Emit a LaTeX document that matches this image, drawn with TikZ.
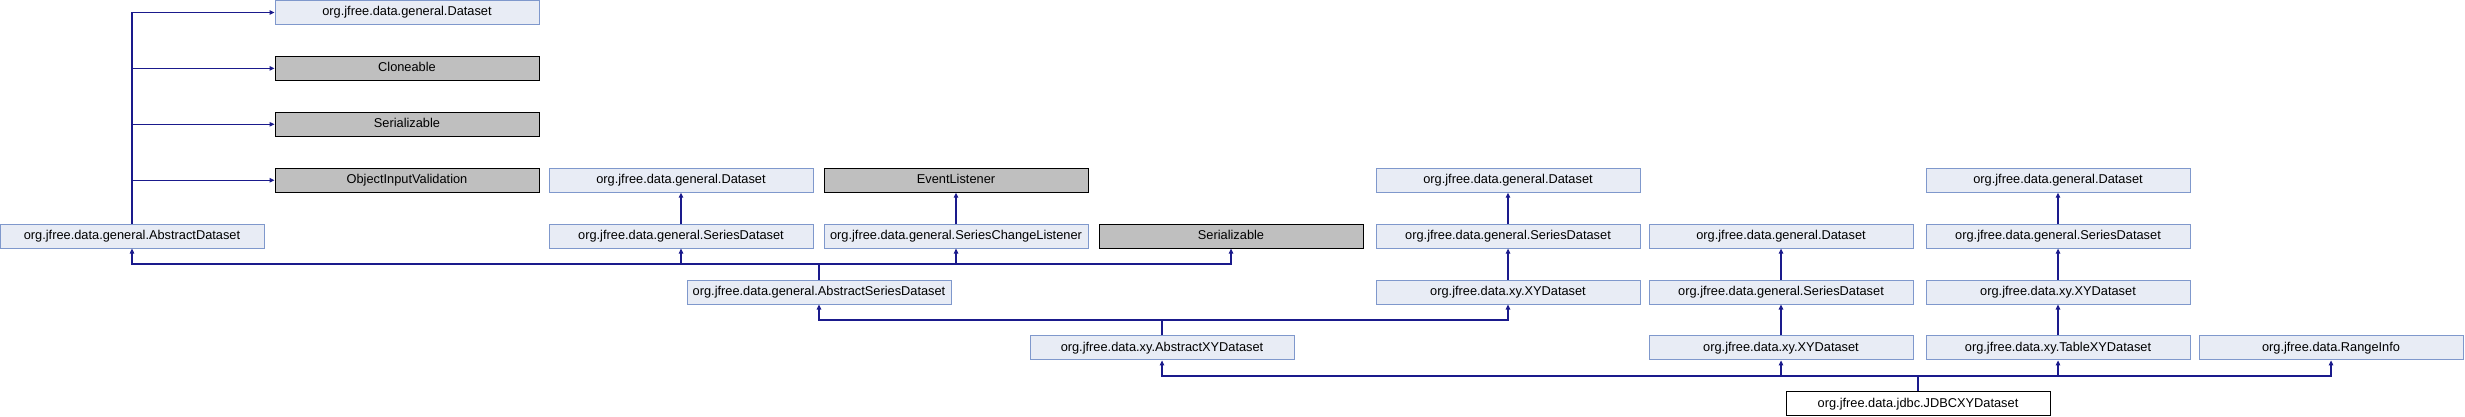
\documentclass[tikz,border=0pt]{standalone}
\usepackage{fontspec}
\setmainfont{Liberation Sans}
\usetikzlibrary{arrows.meta}
\definecolor{boxfill}{HTML}{E8ECF5}
\definecolor{boxline}{HTML}{7F98CC}
\definecolor{grayfill}{HTML}{BFBFBF}
\definecolor{edgecol}{HTML}{1A1A8C}
\tikzset{
  cls/.style={draw=boxline, fill=boxfill, line width=1pt, minimum width=264pt, minimum height=24pt, inner sep=0pt,
    font=\fontsize{12.8pt}{14pt}\selectfont, text height=9.2pt, text depth=2.6pt},
  ext/.style={cls, draw=black, fill=grayfill},
  focus/.style={cls, draw=black, fill=white},
  edge/.style={draw=edgecol, line width=1.1pt, -{Triangle[length=5pt,width=4.5pt]}},
  plain/.style={draw=edgecol, line width=1.1pt}
}
\begin{document}
\begin{tikzpicture}[x=1pt,y=-1pt]
\useasboundingbox (0,0) rectangle (2465,416);
% rows: 12.5, 68.4, 124.3, 180.2, 236.1, 292.0, 347.9, 403.8
% column B
\node[cls] (dsB) at (407,12.5) {org.jfree.data.general.Dataset};
\node[ext] (clo) at (407,68.4) {Cloneable};
\node[ext] (serB) at (407,124.3) {Serializable};
\node[ext] (oiv) at (407,180.2) {ObjectInputValidation};
\node[cls] (ad) at (132,236.1) {org.jfree.data.general.AbstractDataset};
% columns C, D, E
\node[cls] (dsC) at (681,180.2) {org.jfree.data.general.Dataset};
\node[cls] (sdC) at (681,236.1) {org.jfree.data.general.SeriesDataset};
\node[ext] (evl) at (956,180.2) {EventListener};
\node[cls] (scl) at (956,236.1) {org.jfree.data.general.SeriesChangeListener};
\node[ext] (serE) at (1231,236.1) {Serializable};
\node[cls] (asd) at (819,292.0) {org.jfree.data.general.AbstractSeriesDataset};
\node[cls] (axy) at (1162,347.9) {org.jfree.data.xy.AbstractXYDataset};
% column H
\node[cls] (dsH) at (1508,180.2) {org.jfree.data.general.Dataset};
\node[cls] (sdH) at (1508,236.1) {org.jfree.data.general.SeriesDataset};
\node[cls] (xyH) at (1508,292.0) {org.jfree.data.xy.XYDataset};
% column I
\node[cls] (dsI) at (1781,236.1) {org.jfree.data.general.Dataset};
\node[cls] (sdI) at (1781,292.0) {org.jfree.data.general.SeriesDataset};
\node[cls] (xyI) at (1781,347.9) {org.jfree.data.xy.XYDataset};
% column K
\node[cls] (dsK) at (2058,180.2) {org.jfree.data.general.Dataset};
\node[cls] (sdK) at (2058,236.1) {org.jfree.data.general.SeriesDataset};
\node[cls] (xyK) at (2058,292.0) {org.jfree.data.xy.XYDataset};
\node[cls] (txy) at (2058,347.9) {org.jfree.data.xy.TableXYDataset};
\node[cls] (ri) at (2331,347.9) {org.jfree.data.RangeInfo};
\node[focus] (jdbc) at (1918,403.8) {org.jfree.data.jdbc.JDBCXYDataset};
% AbstractDataset edges
\draw[edge] (ad.north) |- (dsB.west);
\draw[edge] (ad.north) |- (clo.west);
\draw[edge] (ad.north) |- (serB.west);
\draw[edge] (ad.north) |- (oiv.west);
% vertical chains
\draw[edge] (sdC) -- (dsC);
\draw[edge] (scl) -- (evl);
\draw[edge] (sdH) -- (dsH);
\draw[edge] (xyH) -- (sdH);
\draw[edge] (sdI) -- (dsI);
\draw[edge] (xyI) -- (sdI);
\draw[edge] (sdK) -- (dsK);
\draw[edge] (xyK) -- (sdK);
\draw[edge] (txy) -- (xyK);
% AbstractSeriesDataset bus
\coordinate (b1) at (819,264);
\draw[plain] (asd.north) -- (b1);
\draw[edge] (b1) -| (ad.south);
\draw[edge] (b1) -| (sdC.south);
\draw[edge] (b1) -| (scl.south);
\draw[edge] (b1) -| (serE.south);
% AbstractXYDataset bus
\coordinate (b2) at (1162,320);
\draw[plain] (axy.north) -- (b2);
\draw[edge] (b2) -| (asd.south);
\draw[edge] (b2) -| (xyH.south);
% JDBC bus
\coordinate (b3) at (1918,376);
\draw[plain] (jdbc.north) -- (b3);
\draw[edge] (b3) -| (axy.south);
\draw[edge] (b3) -| (xyI.south);
\draw[edge] (b3) -| (txy.south);
\draw[edge] (b3) -| (ri.south);
\end{tikzpicture}
\end{document}
